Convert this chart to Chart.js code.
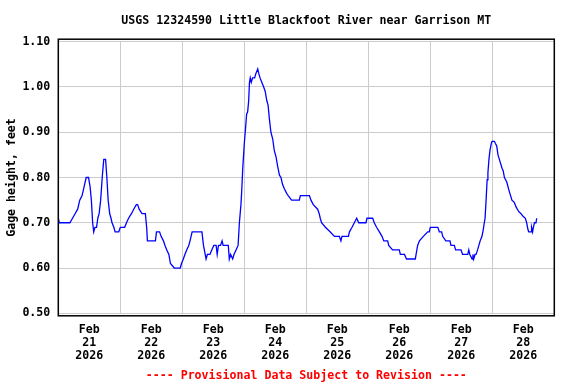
<!DOCTYPE html>
<html>
<head>
<meta charset="utf-8">
<script src="https://cdn.jsdelivr.net/npm/chart.js@4/dist/chart.umd.min.js"></script>
<style>
html,body{margin:0;padding:0;background:#fff;}
#wrap{width:576px;height:384px;}
</style>
</head>
<body>
<div id="wrap"><canvas id="c" width="576" height="384"></canvas></div>
<script>
// Hours since Feb 21 2026 00:00
const hours = [0,0.4,4.5,5.5,6.5,7.5,8.3,9.2,10,10.8,11.7,12.3,12.8,13.3,13.7,14.2,14.8,15.3,15.8,16.4,17.0,17.6,18.3,18.8,19.3,19.9,20.4,20.8,21.5,22.0,23.4,24,25.7,26.4,27.2,28.3,29.2,30.2,30.7,31.3,32.4,33.7,34.2,34.5,37.6,38.0,39.2,39.8,40.7,41.3,42.0,42.8,43.4,44.9,47.2,47.7,48.4,49.0,49.7,50.5,51.0,51.8,55.6,56.2,57.2,57.7,58.7,59.4,60.2,61.1,61.5,62.0,62.8,63.4,63.8,65.8,66.2,66.7,67.5,68.0,68.8,69.6,70.1,70.7,71.0,71.4,72.0,72.5,72.9,73.3,73.7,74.0,74.3,74.7,75.2,76.0,76.5,77.2,77.6,78.1,78.8,79.5,80.1,80.7,81.2,81.7,82.3,83.0,83.6,84.3,84.9,85.6,86.2,86.8,87.5,88.4,89.0,90.3,93.3,93.7,97.2,97.8,98.7,100.4,101.0,101.4,101.9,103.4,105.2,106.9,108.8,109.4,109.8,112.3,112.7,113.7,114.6,115.5,116.3,119.1,119.5,121.7,122.3,123.2,124.3,125.3,126.0,127.5,127.9,129.4,132.0,132.4,134.0,134.8,138.2,138.5,139.1,139.8,141.3,143.0,143.6,144.0,146.9,147.5,148.4,148.8,150.0,151.6,152.0,153.3,153.8,155.9,156.5,158.5,158.9,159.3,160.2,160.5,160.8,161.3,161.7,162.3,162.8,163.3,164.0,164.5,164.9,165.2,165.6,166.0,166.3,166.7,167.1,167.6,167.9,168.8,169.2,169.7,170.2,171.0,171.8,172.2,172.7,173.6,174.3,174.8,175.6,176.5,177.2,178.2,179.1,179.8,180.8,181.3,181.8,182.1,183.0,183.2,183.6,183.9,184.3,184.9,185.2];
const gageHeight = [0.71,0.70,0.70,0.71,0.72,0.73,0.75,0.76,0.78,0.80,0.80,0.78,0.75,0.70,0.68,0.69,0.69,0.71,0.72,0.75,0.80,0.84,0.84,0.80,0.75,0.72,0.71,0.70,0.69,0.68,0.68,0.69,0.69,0.70,0.71,0.72,0.73,0.74,0.74,0.73,0.72,0.72,0.69,0.66,0.66,0.68,0.68,0.67,0.66,0.65,0.64,0.63,0.61,0.60,0.60,0.61,0.62,0.63,0.64,0.65,0.66,0.68,0.68,0.65,0.62,0.63,0.63,0.64,0.65,0.65,0.63,0.65,0.65,0.66,0.65,0.65,0.62,0.63,0.62,0.63,0.64,0.65,0.70,0.74,0.77,0.82,0.875,0.91,0.94,0.945,0.97,1.01,1.02,1.01,1.02,1.02,1.03,1.04,1.03,1.02,1.01,1.00,0.99,0.97,0.96,0.93,0.90,0.885,0.86,0.845,0.825,0.805,0.80,0.785,0.775,0.765,0.76,0.75,0.75,0.76,0.76,0.75,0.74,0.73,0.72,0.71,0.70,0.69,0.68,0.67,0.67,0.66,0.67,0.67,0.68,0.69,0.70,0.71,0.70,0.70,0.71,0.71,0.70,0.69,0.68,0.67,0.66,0.66,0.65,0.64,0.64,0.63,0.63,0.62,0.62,0.63,0.65,0.66,0.67,0.68,0.68,0.69,0.69,0.68,0.68,0.67,0.66,0.66,0.65,0.65,0.64,0.64,0.63,0.63,0.64,0.63,0.62,0.63,0.62,0.63,0.63,0.64,0.65,0.66,0.67,0.685,0.70,0.71,0.75,0.795,0.81,0.84,0.86,0.875,0.88,0.88,0.875,0.87,0.85,0.835,0.82,0.815,0.80,0.79,0.775,0.765,0.75,0.745,0.735,0.725,0.72,0.715,0.71,0.70,0.685,0.68,0.68,0.69,0.68,0.69,0.70,0.70,0.71];
const dayLabels = ['21','22','23','24','25','26','27','28'];
const monthLabel = 'Feb';
const yearLabel = '2026';
const yTicks = [0.50,0.60,0.70,0.80,0.90,1.00,1.10];
const titleText = 'USGS 12324590 Little Blackfoot River near Garrison MT';
const footerText = '---- Provisional Data Subject to Revision ----';
const yTitle = 'Gage height, feet';

const FONT = '"DejaVu Sans Mono", monospace';
const points = hours.map((h,i)=>({x:h,y:gageHeight[i]}));

const framePlugin = {
  id:'frame',
  afterDraw(chart){
    const {ctx, chartArea:a} = chart;
    ctx.save();
    ctx.strokeStyle = '#000';
    ctx.lineWidth = 1.5;
    ctx.strokeRect(a.left, a.top-2.5, a.right-a.left, a.bottom-a.top+5);
    ctx.fillStyle = '#000';
    ctx.font = 'bold 11.6px ' + FONT;
    ctx.textAlign = 'center';
    ctx.textBaseline = 'middle';
    const cx = (a.left+a.right)/2;
    ctx.fillText(titleText, cx, 20.5);
    ctx.fillStyle = '#ff0000';
    ctx.fillText(footerText, cx, 375.5);
    ctx.restore();
  }
};

new Chart(document.getElementById('c'), {
  type:'line',
  data:{datasets:[{
    data:points,
    borderColor:'#0000ff',
    borderWidth:1.3,
    pointRadius:0,
    tension:0,
    fill:false
  }]},
  options:{
    responsive:false,
    animation:false,
    devicePixelRatio:1,
    layout:{padding:{top:41.7,right:21.7,left:0,bottom:0}},
    plugins:{legend:{display:false},tooltip:{enabled:false},title:{display:false}},
    scales:{
      x:{
        type:'linear',
        min:0,max:192,
        afterFit(s){ s.height = 70.7; },
        afterBuildTicks(s){
          const t=[]; for(let v=0; v<=192; v+=12) t.push({value:v}); s.ticks=t;
        },
        grid:{
          drawTicks:false,
          color:(c)=> (c.tick && c.tick.value%24===0) ? '#cccccc' : 'rgba(0,0,0,0)',
          lineWidth:1
        },
        border:{display:false},
        ticks:{
          autoSkip:false,maxRotation:0,minRotation:0,padding:10,
          color:'#000',
          font:{family:FONT,size:11.6,weight:'bold',lineHeight:1.12},
          callback:(v)=>{
            if (v%24===12) { const d=Math.floor(v/24); return [monthLabel, dayLabels[d], yearLabel]; }
            return '';
          }
        }
      },
      y:{
        min:0.5,max:1.1,
        afterFit(s){ s.width = 58.3; },
        afterBuildTicks(s){ s.ticks = yTicks.map(v=>({value:v})); },
        grid:{drawTicks:false,color:'#cccccc',lineWidth:1},
        border:{display:false},
        title:{display:true,text:yTitle,color:'#000',padding:{top:5,bottom:0},
          font:{family:FONT,size:11.6,weight:'bold'}},
        ticks:{
          padding:8,color:'#000',
          font:{family:FONT,size:11.6,weight:'bold'},
          callback:(v)=>Number(v).toFixed(2)
        }
      }
    }
  },
  plugins:[framePlugin]
});
</script>
</body>
</html>
